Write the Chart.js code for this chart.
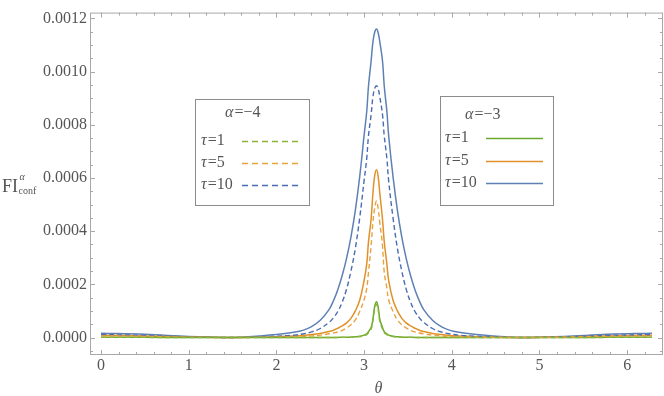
<!DOCTYPE html>
<html>
<head>
<meta charset="utf-8">
<script src="https://cdn.jsdelivr.net/npm/chart.js@4.4.1/dist/chart.umd.min.js"></script>
<style>
  html, body { margin: 0; padding: 0; background: #fff; }
  #wrap { width: 664px; height: 396px; }
</style>
</head>
<body>
<div id="wrap"><canvas id="myChart"></canvas></div>
<script>
// theta grid (denser around pi where the peak is)
const theta = [0, 0.5, 1.0, 1.4, 1.6, 1.8, 2.0, 2.2, 2.3, 2.4, 2.5, 2.6, 2.65, 2.7, 2.75, 2.8, 2.85, 2.9, 2.95, 3.0,
  3.03, 3.05, 3.08, 3.1, 3.12, 3.1416, 3.16, 3.18, 3.21, 3.23, 3.26, 3.28, 3.33, 3.38, 3.43, 3.48, 3.53, 3.58,
  3.63, 3.68, 3.78, 3.88, 3.98, 4.08, 4.28, 4.48, 4.68, 4.88, 5.28, 5.78, 6.2832];

// alpha = -3 (solid)
const tau1a3 = [0.01e-4, 0.006e-4, 0.002e-4, 0, 0.0001e-4, 0.0002e-4, 0.0005e-4, 0.001e-4, 0.001e-4, 0.0015e-4, 0.002e-4,
  0.003e-4, 0.004e-4, 0.005e-4, 0.007e-4, 0.01e-4, 0.015e-4, 0.025e-4, 0.045e-4, 0.09e-4, 0.135e-4, 0.22e-4, 0.38e-4,
  0.68e-4, 1.15e-4, 1.35e-4, 1.15e-4, 0.68e-4, 0.38e-4, 0.22e-4, 0.135e-4, 0.09e-4, 0.045e-4, 0.025e-4, 0.015e-4,
  0.01e-4, 0.007e-4, 0.005e-4, 0.004e-4, 0.003e-4, 0.002e-4, 0.0015e-4, 0.001e-4, 0.001e-4, 0.0005e-4, 0.0002e-4,
  0.0001e-4, 0, 0.002e-4, 0.006e-4, 0.01e-4];
const tau5a3 = [0.09e-4, 0.06e-4, 0.02e-4, 0.001e-4, 0.004e-4, 0.014e-4, 0.032e-4, 0.06e-4, 0.08e-4, 0.11e-4, 0.155e-4,
  0.225e-4, 0.275e-4, 0.35e-4, 0.435e-4, 0.55e-4, 0.72e-4, 1.0e-4, 1.4e-4, 2.15e-4, 2.76e-4, 3.6e-4, 4.45e-4, 5.4e-4,
  6.07e-4, 6.31e-4, 6.07e-4, 5.4e-4, 4.45e-4, 3.6e-4, 2.76e-4, 2.15e-4, 1.4e-4, 1.0e-4, 0.72e-4, 0.55e-4, 0.435e-4,
  0.35e-4, 0.275e-4, 0.225e-4, 0.155e-4, 0.11e-4, 0.08e-4, 0.06e-4, 0.032e-4, 0.014e-4, 0.004e-4, 0.001e-4, 0.02e-4,
  0.06e-4, 0.09e-4];
const tau10a3 = [0.16e-4, 0.12e-4, 0.04e-4, 0.004e-4, 0.015e-4, 0.055e-4, 0.11e-4, 0.20e-4, 0.27e-4, 0.41e-4, 0.65e-4,
  1.05e-4, 1.38e-4, 1.80e-4, 2.33e-4, 2.98e-4, 3.78e-4, 4.78e-4, 6.05e-4, 7.6e-4, 8.5e-4, 9.45e-4, 10.4e-4, 11.1e-4,
  11.47e-4, 11.6e-4, 11.47e-4, 11.1e-4, 10.4e-4, 9.45e-4, 8.5e-4, 7.6e-4, 6.05e-4, 4.78e-4, 3.78e-4, 2.98e-4, 2.33e-4,
  1.80e-4, 1.38e-4, 1.05e-4, 0.65e-4, 0.41e-4, 0.27e-4, 0.20e-4, 0.11e-4, 0.055e-4, 0.015e-4, 0.004e-4, 0.04e-4,
  0.12e-4, 0.16e-4];

// alpha = -4 (dashed)
const tau1a4 = [0.007e-4, 0.004e-4, 0.001e-4, 0, 0, 0.0001e-4, 0.0003e-4, 0.0006e-4, 0.0008e-4, 0.001e-4, 0.0015e-4,
  0.002e-4, 0.003e-4, 0.004e-4, 0.005e-4, 0.008e-4, 0.012e-4, 0.02e-4, 0.035e-4, 0.07e-4, 0.11e-4, 0.18e-4, 0.32e-4,
  0.6e-4, 1.05e-4, 1.25e-4, 1.05e-4, 0.6e-4, 0.32e-4, 0.18e-4, 0.11e-4, 0.07e-4, 0.035e-4, 0.02e-4, 0.012e-4,
  0.008e-4, 0.005e-4, 0.004e-4, 0.003e-4, 0.002e-4, 0.0015e-4, 0.001e-4, 0.0008e-4, 0.0006e-4, 0.0003e-4, 0.0001e-4,
  0, 0, 0.001e-4, 0.004e-4, 0.007e-4];
const tau5a4 = [0.06e-4, 0.045e-4, 0.015e-4, 0.0005e-4, 0.002e-4, 0.007e-4, 0.016e-4, 0.032e-4, 0.043e-4, 0.062e-4, 0.09e-4,
  0.14e-4, 0.17e-4, 0.21e-4, 0.27e-4, 0.36e-4, 0.48e-4, 0.66e-4, 0.98e-4, 1.42e-4, 1.85e-4, 2.45e-4, 3.45e-4, 4.3e-4,
  4.85e-4, 5.14e-4, 4.85e-4, 4.3e-4, 3.45e-4, 2.45e-4, 1.85e-4, 1.42e-4, 0.98e-4, 0.66e-4, 0.48e-4, 0.36e-4, 0.27e-4,
  0.21e-4, 0.17e-4, 0.14e-4, 0.09e-4, 0.062e-4, 0.043e-4, 0.032e-4, 0.016e-4, 0.007e-4, 0.002e-4, 0.0005e-4, 0.015e-4,
  0.045e-4, 0.06e-4];
const tau10a4 = [0.11e-4, 0.08e-4, 0.025e-4, 0.002e-4, 0.007e-4, 0.025e-4, 0.05e-4, 0.09e-4, 0.135e-4, 0.21e-4, 0.34e-4,
  0.57e-4, 0.74e-4, 0.98e-4, 1.33e-4, 1.82e-4, 2.5e-4, 3.35e-4, 4.5e-4, 5.9e-4, 6.73e-4, 7.58e-4, 8.38e-4, 9.03e-4,
  9.36e-4, 9.47e-4, 9.36e-4, 9.03e-4, 8.38e-4, 7.58e-4, 6.73e-4, 5.9e-4, 4.5e-4, 3.35e-4, 2.5e-4, 1.82e-4, 1.33e-4,
  0.98e-4, 0.74e-4, 0.57e-4, 0.34e-4, 0.21e-4, 0.135e-4, 0.09e-4, 0.05e-4, 0.025e-4, 0.007e-4, 0.002e-4, 0.025e-4,
  0.08e-4, 0.11e-4];

const xTicks = [0, 1, 2, 3, 4, 5, 6];
const yTicks = [0, 0.0002, 0.0004, 0.0006, 0.0008, 0.0010, 0.0012];
const tauLabels = ['1', '5', '10'];

const solidColors = ['#6aa92b', '#e0912a', '#5e81b5'];
const dashColors = ['#8cb53a', '#e9a240', '#4a6cb2'];

const FONT = '"Liberation Serif", "DejaVu Serif", serif';
const TXT = '#555555';
const FRAME = '#a8a8a8';

function pts(arr) {
  return theta.map((t, i) => ({ x: t, y: arr[i] }));
}

function ds(arr, color, dashed) {
  return {
    data: pts(arr),
    borderColor: color,
    borderWidth: dashed ? 1.4 : 1.5,
    borderDash: dashed ? [5, 3] : [],
    pointRadius: 0,
    fill: false,
    tension: 0.4
  };
}

// draws "α=−4" style text with italic greek letter
function mixedText(ctx, x, y, sym, rest, size) {
  ctx.font = 'italic ' + size + 'px ' + FONT;
  ctx.fillText(sym, x, y);
  const w = ctx.measureText(sym).width;
  ctx.font = size + 'px ' + FONT;
  ctx.fillText(rest, x + w + 1, y);
}

function drawLegend(ctx, box, title, colors, dashed) {
  ctx.save();
  ctx.fillStyle = '#fff';
  ctx.fillRect(box.x, box.y, box.w, box.h);
  ctx.strokeStyle = '#8c8c8c';
  ctx.lineWidth = 1;
  ctx.strokeRect(box.x + 0.5, box.y + 0.5, box.w, box.h);
  ctx.fillStyle = TXT;
  ctx.textBaseline = 'middle';
  mixedText(ctx, box.titleX, box.titleY, 'α', '=−' + title, 16);
  tauLabels.forEach((t, i) => {
    const yy = box.rowY[i];
    ctx.fillStyle = TXT;
    mixedText(ctx, box.textX, yy, 'τ', '=' + t, 16);
    ctx.beginPath();
    ctx.strokeStyle = colors[i];
    ctx.lineWidth = 1.6;
    ctx.setLineDash(dashed ? [6, 4] : []);
    ctx.moveTo(box.lineX0, yy + 0.5);
    ctx.lineTo(box.lineX1, yy + 0.5);
    ctx.stroke();
  });
  ctx.restore();
}

const decor = {
  id: 'decor',
  afterDraw(chart) {
    const { ctx, chartArea: a, scales: { x, y } } = chart;
    ctx.save();
    // frame
    ctx.strokeStyle = FRAME;
    ctx.lineWidth = 1;
    ctx.strokeRect(a.left + 0.5, a.top + 0.5, a.right - a.left - 1, a.bottom - a.top - 1);
    // tick marks on all four sides
    ctx.beginPath();
    for (let i = 0; i <= 32; i++) {
      const v = i * 0.2;
      if (v > x.max) break;
      const px = Math.round(x.getPixelForValue(v)) + 0.5;
      const len = i % 5 === 0 ? 5 : 3;
      ctx.moveTo(px, a.bottom); ctx.lineTo(px, a.bottom - len);
      ctx.moveTo(px, a.top); ctx.lineTo(px, a.top + len);
    }
    for (let i = -1; i <= 24; i++) {
      const v = i * 0.00005;
      if (v < y.min || v > y.max) continue;
      const py = Math.round(y.getPixelForValue(v)) + 0.5;
      const len = i % 4 === 0 ? 5 : 3;
      ctx.moveTo(a.left, py); ctx.lineTo(a.left + len, py);
      ctx.moveTo(a.right, py); ctx.lineTo(a.right - len, py);
    }
    ctx.stroke();

    // axis titles
    ctx.fillStyle = TXT;
    ctx.textBaseline = 'alphabetic';
    ctx.font = '18px ' + FONT;
    ctx.fillText('FI', 2, 192);
    const fw = ctx.measureText('FI').width;
    ctx.font = 'italic 10px ' + FONT;
    ctx.fillText('α', 2 + fw + 1.5, 180);
    ctx.font = '10px ' + FONT;
    ctx.fillText('conf', 2 + fw + 0.5, 194);
    ctx.font = 'italic 16px ' + FONT;
    ctx.textAlign = 'center';
    ctx.fillText('θ', (a.left + a.right) / 2 + 2, 393);
    ctx.restore();

    drawLegend(ctx, { x: 195, y: 99, w: 114, h: 106, titleX: 225, titleY: 113, textX: 201,
      rowY: [141, 163, 185], lineX0: 242, lineX1: 298 }, '4', dashColors, true);
    drawLegend(ctx, { x: 440, y: 96, w: 113, h: 109, titleX: 465, titleY: 115, textX: 445,
      rowY: [138, 161, 183], lineX0: 486, lineX1: 543 }, '3', solidColors, false);
  }
};

const ctx = document.getElementById('myChart').getContext('2d');
new Chart(ctx, {
  type: 'line',
  data: {
    datasets: [
      ds(tau1a4, dashColors[0], true),
      ds(tau5a4, dashColors[1], true),
      ds(tau10a4, dashColors[2], true),
      ds(tau1a3, solidColors[0], false),
      ds(tau5a3, solidColors[1], false),
      ds(tau10a3, solidColors[2], false)
    ]
  },
  options: {
    responsive: true,
    maintainAspectRatio: false,
    animation: false,
    layout: { padding: { top: 2, right: 1, left: 0, bottom: 0 } },
    plugins: { legend: { display: false }, tooltip: { enabled: false } },
    scales: {
      x: {
        type: 'linear',
        min: -0.126,
        max: 6.409,
        grid: { display: false, drawTicks: false },
        border: { display: false },
        afterBuildTicks: s => { s.ticks = xTicks.map(v => ({ value: v })); },
        afterFit: s => { s.height = 41; },
        ticks: { color: TXT, font: { family: FONT, size: 16 }, padding: 1, maxRotation: 0 }
      },
      y: {
        type: 'linear',
        min: -0.0000657,
        max: 0.001222,
        grid: { display: false, drawTicks: false },
        border: { display: false },
        afterBuildTicks: s => { s.ticks = yTicks.map(v => ({ value: v })); },
        afterFit: s => { s.width = 90; },
        ticks: { color: TXT, font: { family: FONT, size: 16 }, padding: 3, callback: v => v.toFixed(4) }
      }
    }
  },
  plugins: [decor]
});
</script>
</body>
</html>
